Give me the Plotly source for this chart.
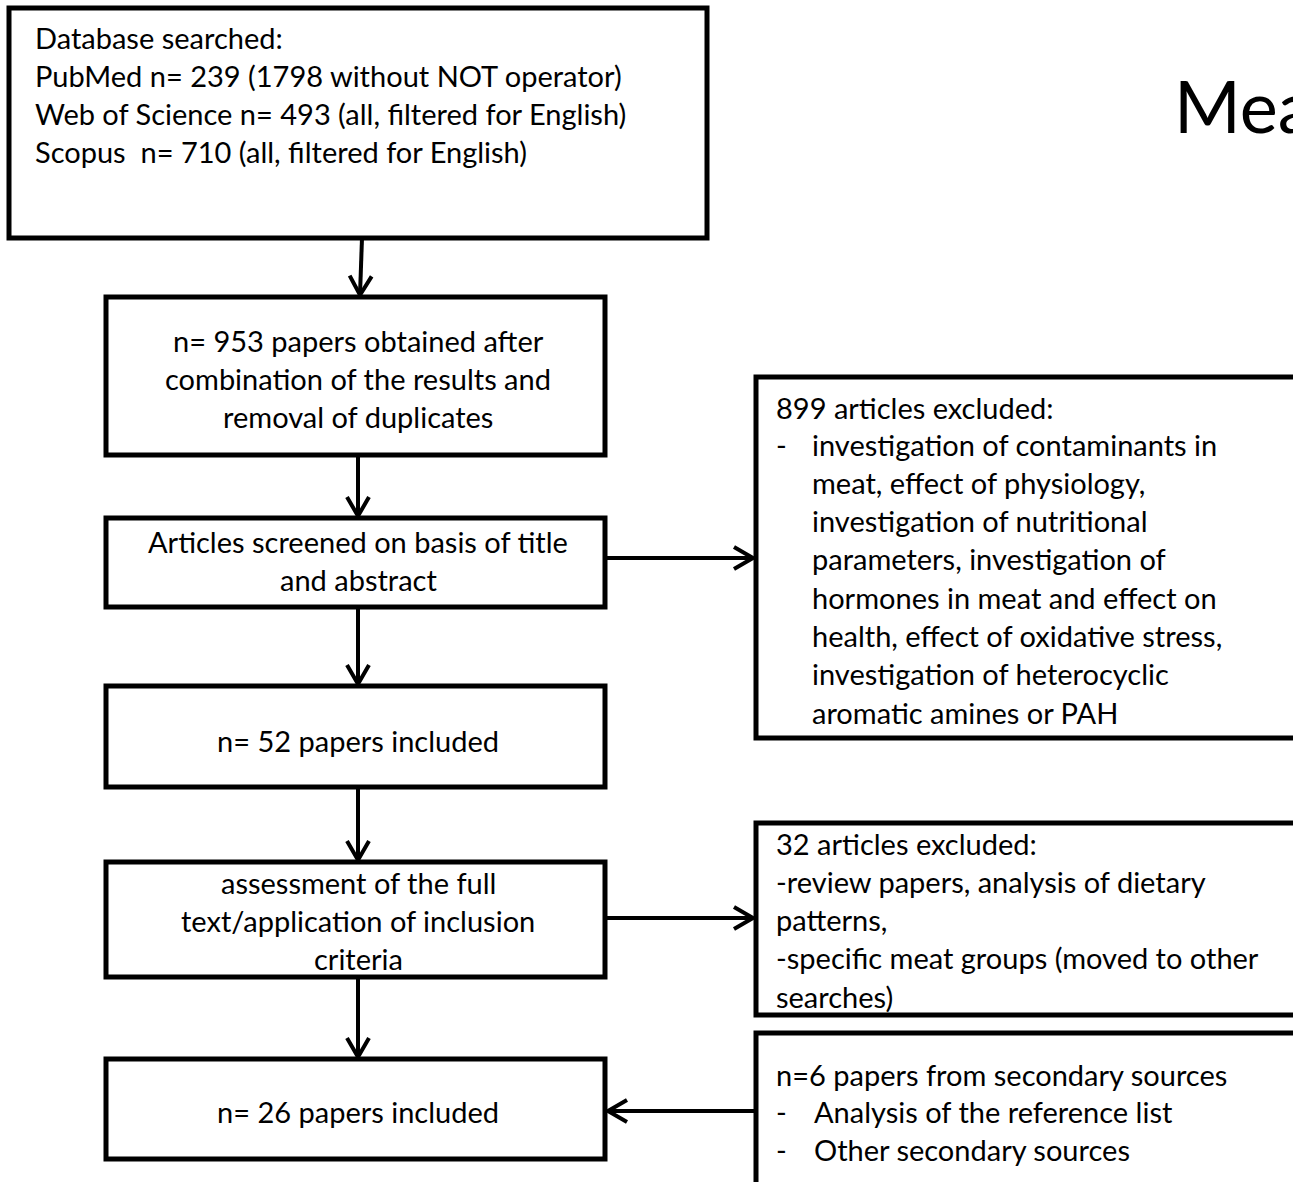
import plotly.graph_objects as go

# ---- content (text) ----
title_text = "Meat"
box1_lines = ["Database searched:",
              "PubMed n= 239 (1798 without NOT operator)",
              "Web of Science n= 493 (all, filtered for English)",
              "Scopus  n= 710 (all, filtered for English)"]
box2_lines = ["n= 953 papers obtained after", "combination of the results and", "removal of duplicates"]
box3_lines = ["Articles screened on basis of title", "and abstract"]
box4_lines = ["n= 52 papers included"]
box5_lines = ["assessment of the full", "text/application of inclusion", "criteria"]
box6_lines = ["n= 26 papers included"]
excl1_head = "899 articles excluded:"
excl1_items = ["investigation of contaminants in", "meat, effect of physiology,",
               "investigation of nutritional", "parameters, investigation of",
               "hormones in meat and effect on", "health, effect of oxidative stress,",
               "investigation of heterocyclic", "aromatic amines or PAH"]
excl2_lines = ["32 articles excluded:", "-review papers, analysis of dietary", "patterns,",
               "-specific meat groups (moved to other", "searches)"]
sec_head = "n=6 papers from secondary sources"
sec_items = ["Analysis of the reference list", "Other secondary sources"]

# ---- layout geometry (pixels of the 1293x1182 page) ----
W, H = 1293, 1182
FONT = "Lato, Carlito, Calibri, sans-serif"
FS = 29
LH = 38.3
BW = 5

boxes = {
    "b1": (9, 8, 707, 238),
    "b2": (106, 297, 605, 455),
    "b3": (106, 518, 605, 607),
    "b4": (106, 686, 605, 787),
    "b5": (106, 862, 605, 977),
    "b6": (106, 1059, 605, 1159),
    "r1": (756, 377, 1310, 738),
    "r2": (756, 823, 1310, 1015),
    "r3": (756, 1033, 1310, 1200),
}

fig = go.Figure()
shapes = []
ann = []

for k, (x0, y0, x1, y1) in boxes.items():
    shapes.append(dict(type="rect", x0=x0, y0=y0, x1=x1, y1=y1,
                       line=dict(color="black", width=BW), fillcolor="white", layer="below"))

def arrow(x0, y0, x1, y1):
    shapes.append(dict(type="line", x0=x0, y0=y0, x1=x1, y1=y1, line=dict(color="black", width=4)))
    dx, dy = x1 - x0, y1 - y0
    L = (dx * dx + dy * dy) ** 0.5
    ux, uy = dx / L, dy / L
    px, py = -uy, ux
    back, half = 19, 11
    ax1, ay1 = x1 - ux * back + px * half, y1 - uy * back + py * half
    ax2, ay2 = x1 - ux * back - px * half, y1 - uy * back - py * half
    shapes.append(dict(type="path", path=f"M {ax1},{ay1} L {x1},{y1} L {ax2},{ay2}",
                       line=dict(color="black", width=4)))

CX = 358
arrow(362, 238, 360, 295)
arrow(CX, 455, CX, 516)
arrow(CX, 607, CX, 684)
arrow(CX, 787, CX, 860)
arrow(CX, 977, CX, 1057)
arrow(605, 558, 753, 558)
arrow(605, 918, 753, 918)
arrow(756, 1111, 608, 1111)

def text(x, y, s, anchor="center", size=FS):
    ann.append(dict(x=x, y=y, text=s, showarrow=False, xanchor=anchor, yanchor="middle",
                    font=dict(family=FONT, size=size, color="black")))

def block(lines, x, y0, anchor="center"):
    for i, s in enumerate(lines):
        text(x, y0 + i * LH, s, anchor)

block(box1_lines, 33, 37, "left")
block(box2_lines, CX, 340)
block(box3_lines, CX, 541)
block(box4_lines, CX, 740)
block(box5_lines, CX, 882)
block(box6_lines, CX, 1111)

text(774, 407, excl1_head, "left")
text(774, 444, "-", "left")
block(excl1_items, 810, 444, "left")

block(excl2_lines, 774, 843, "left")

text(774, 1074, sec_head, "left")
for i, s in enumerate(sec_items):
    text(774, 1111 + i * LH, "-", "left")
    text(812, 1111 + i * LH, s, "left")

text(1172, 105, title_text, "left", size=72)

fig.update_layout(
    width=W, height=H, margin=dict(l=0, r=0, t=0, b=0),
    paper_bgcolor="white", plot_bgcolor="white",
    xaxis=dict(range=[0, W], visible=False, fixedrange=True),
    yaxis=dict(range=[H, 0], visible=False, fixedrange=True),
    shapes=shapes, annotations=ann, showlegend=False,
)
fig.write_html("out.html", config={"displayModeBar": False},
               post_script="document.body.style.margin='0';document.body.style.overflow='hidden';")
